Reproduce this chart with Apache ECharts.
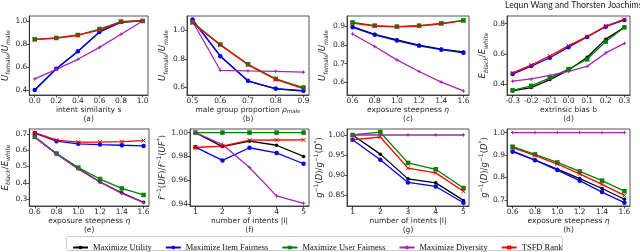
<!DOCTYPE html>
<html><head><meta charset="utf-8">
<script src="https://cdn.jsdelivr.net/npm/echarts@6/dist/echarts.min.js"></script>
<style>html,body{margin:0;padding:0;background:#fff}#c{width:640px;height:252px}</style>
</head><body><div id="c"></div>
<script>
// ---------- data ----------
const seriesNames = ['Maximize Utility','Maximize Item Fairness','Maximize User Fairness','Maximize Diversity','TSFD Rank'];

const xA = [0.0,0.2,0.4,0.6,0.8,1.0];
const xB = [0.5,0.6,0.7,0.8,0.9];
const xEta = [0.6,0.8,1.0,1.2,1.4,1.6];
const xBias = [-0.3,-0.2,-0.1,0.0,0.1,0.2,0.3];
const xIntents = [1,2,3,4,5];

// (a) intent similarity
const aUtil = [0.40,0.585,0.735,0.905,0.99,1.0];
const aItem = [0.40,0.585,0.737,0.905,0.99,1.0];
const aUser = [0.84,0.852,0.878,0.93,0.995,1.0];
const aDiv  = [0.497,0.58,0.667,0.771,0.885,1.0];
const aTsfd = [0.84,0.851,0.876,0.92,0.993,1.0];
// (b) male group proportion
const bUtil = [1.07,0.82,0.645,0.59,0.575];
const bItem = [1.073,0.818,0.647,0.593,0.578];
const bUser = [1.055,0.90,0.762,0.66,0.60];
const bDiv  = [1.06,0.72,0.716,0.713,0.707];
const bTsfd = [1.05,0.897,0.758,0.656,0.593];
// (c) exposure steepness
const cUtil = [0.90,0.858,0.828,0.80,0.778,0.763];
const cItem = [0.896,0.855,0.824,0.796,0.775,0.758];
const cUser = [0.922,0.905,0.90,0.905,0.917,0.933];
const cDiv  = [0.86,0.792,0.72,0.657,0.60,0.552];
const cTsfd = [0.918,0.902,0.898,0.903,0.915,0.932];
// (d) extrinsic bias
const dUtil = [0.356,0.378,0.431,0.493,0.578,0.698,0.776];
const dItem = [0.467,0.52,0.575,0.645,0.712,0.78,0.825];
const dUser = [0.36,0.389,0.442,0.50,0.565,0.682,0.776];
const dDiv  = [0.42,0.435,0.458,0.485,0.518,0.607,0.67];
const dTsfd = [0.475,0.527,0.587,0.655,0.715,0.785,0.83];
// (e) exposure steepness
const eUtil = [0.68,0.578,0.487,0.405,0.338,0.28];
const eItem = [0.706,0.656,0.64,0.635,0.631,0.627];
const eUser = [0.683,0.58,0.493,0.423,0.365,0.325];
const eDiv  = [0.68,0.577,0.485,0.403,0.335,0.278];
const eTsfd = [0.708,0.663,0.65,0.65,0.653,0.66];
// (f) number of intents
const fUtil = [1.0,0.9883,0.9928,0.9894,0.980];
const fItem = [0.9878,0.9767,0.9873,0.983,0.9739];
const fUser = [1.0,1.0,1.0,1.0,1.0];
const fDiv  = [1.0,0.990,0.9708,0.947,0.9408];
const fTsfd = [0.9875,0.9886,0.9936,0.9938,0.9939];
// (g) number of intents
const gUtil = [1.0,0.952,0.89,0.88,0.836];
const gItem = [0.988,0.938,0.881,0.871,0.83];
const gUser = [1.0,1.007,0.93,0.914,0.867];
const gDiv  = [1.0,1.0,1.0,1.0,1.0];
const gTsfd = [0.988,0.995,0.917,0.905,0.859];
// (h) exposure steepness
const hUtil = [0.918,0.878,0.837,0.795,0.751,0.703];
const hItem = [0.915,0.877,0.833,0.786,0.735,0.688];
const hUser = [0.937,0.903,0.867,0.827,0.786,0.739];
const hDiv  = [1.0,1.0,1.0,1.0,1.0,1.0];
const hTsfd = [0.933,0.898,0.86,0.816,0.769,0.72];

// tick values
const tickXA = [0.0,0.2,0.4,0.6,0.8,1.0];
const tickXB = [0.5,0.6,0.7,0.8,0.9];
const tickXEta = [0.6,0.8,1.0,1.2,1.4,1.6];
const tickXBias = [-0.3,-0.2,-0.1,0.0,0.1,0.2,0.3];
const tickXIntents = [1,2,3,4,5];
const tickYA = [0.4,0.6,0.8,1.0];
const tickYB = [0.6,0.8,1.0];
const tickYC = [0.6,0.7,0.8,0.9];
const tickYD = [0.4,0.6,0.8];
const tickYE = [0.3,0.4,0.5,0.6,0.7];
const tickYF = [0.94,0.96,0.98,1.00];
const tickYG = [0.85,0.90,0.95,1.00];
const tickYH = [0.7,0.8,0.9,1.0];

// ---------- styling ----------
const colors = ['#000000','#0000ff','#008000','#a626b0','#ff0000'];
const symX = 'path://M0,0L10,10M10,0L0,10';
const symPlus = 'path://M5,0L5,10M0,5L10,5';
const symbols = ['circle','circle','rect',symPlus,symX];
const symSizes = [3.5,4.5,4.5,3.5,4];
const stroked = [false,false,false,true,true];
const AX = '#262626';
const FONT = 'DejaVu Sans';

const uLab = '{i|U}{s|female}{t|/}{i|U}{s|male}';
const eLab = '{i|E}{s|black}{t|/}{i|E}{s|white}';
const fLab = '{i|f}{p|−1}{t|(}{i|UF}{t|)/}{i|f}{p|−1}{t|(}{i|UF}{p|*}{t|)}';
const gLab = '{i|g}{p|−1}{t|(}{i|D}{t|)/}{i|g}{p|−1}{t|(}{i|D}{p|*}{t|)}';

const panels = [
  {g:[27,16,121,79], x:xA, ys:[aUtil,aItem,aUser,aDiv,aTsfd], xr:[-0.05,1.05], yr:[0.357,1.043], xt:tickXA, xd:1, yt:tickYA, yd:1, yn:uLab, yg:16, xn:'intent similarity s\n(a)'},
  {g:[187,16,122,79], x:xB, ys:[bUtil,bItem,bUser,bDiv,bTsfd], xr:[0.48,0.92], yr:[0.548,1.098], xt:tickXB, xd:1, yt:tickYB, yd:1, yn:uLab, yg:16, xn:'male group proportion {m|ρ}{s|male}\n(b)'},
  {g:[347,16,122,79], x:xEta, ys:[cUtil,cItem,cUser,cDiv,cTsfd], xr:[0.55,1.65], yr:[0.53,0.957], xt:tickXEta, xd:1, yt:tickYC, yd:1, yn:uLab, yg:16, xn:'exposure steepness {m|η}\n(c)'},
  {g:[507,16,123,79], x:xBias, ys:[dUtil,dItem,dUser,dDiv,dTsfd], xr:[-0.33,0.33], yr:[0.329,0.851], xt:tickXBias, xd:1, yt:tickYD, yd:1, yn:eLab, yg:17, xn:'extrinsic bias b\n(d)'},
  {g:[27,129,122,77], x:xEta, ys:[eUtil,eItem,eUser,eDiv,eTsfd], xr:[0.55,1.65], yr:[0.257,0.731], xt:tickXEta, xd:1, yt:tickYE, yd:1, yn:eLab, yg:16, xn:'exposure steepness {m|η}\n(e)'},
  {g:[190,129,119,77], x:xIntents, ys:[fUtil,fItem,fUser,fDiv,fTsfd], xr:[0.8,5.2], yr:[0.9385,1.003], xt:tickXIntents, xd:0, yt:tickYF, yd:2, yn:fLab, yg:19, xn:'number of intents |I|\n(f)'},
  {g:[347,129,122,77], x:xIntents, ys:[gUtil,gItem,gUser,gDiv,gTsfd], xr:[0.8,5.2], yr:[0.822,1.015], xt:tickXIntents, xd:0, yt:tickYG, yd:2, yn:gLab, yg:16, xn:'number of intents |I|\n(g)'},
  {g:[507,129,123,77], x:xEta, ys:[hUtil,hItem,hUser,hDiv,hTsfd], xr:[0.55,1.65], yr:[0.673,1.016], xt:tickXEta, xd:1, yt:tickYH, yd:1, yn:gLab, yg:16, xn:'exposure steepness {m|η}\n(h)'}
];

const yRich = {
  i:{fontFamily:FONT, fontStyle:'italic', fontSize:8.5, lineHeight:12, color:AX},
  t:{fontFamily:FONT, fontSize:8.5, lineHeight:12, color:AX},
  s:{fontFamily:FONT, fontStyle:'italic', fontSize:6, lineHeight:6, verticalAlign:'bottom', color:AX},
  p:{fontFamily:FONT, fontSize:6, lineHeight:6, verticalAlign:'top', color:AX}
};
const xRich = {
  m:{fontFamily:FONT, fontStyle:'italic', fontSize:7.5, lineHeight:9, color:AX},
  s:{fontFamily:FONT, fontStyle:'italic', fontSize:5.5, lineHeight:5, verticalAlign:'bottom', color:AX}
};

const grid=[], xAxis=[], yAxis=[], series=[];
panels.forEach((p,k)=>{
  grid.push({left:p.g[0], top:p.g[1], width:p.g[2], height:p.g[3], show:true, borderColor:AX, borderWidth:0.8, containLabel:false});
  const common = {
    type:'value', gridIndex:k, splitLine:{show:false},
    axisLine:{show:true, onZero:false, lineStyle:{color:AX, width:0.8}},
    nameLocation:'middle'
  };
  xAxis.push(Object.assign({}, common, {
    min:p.xr[0], max:p.xr[1],
    axisTick:{show:true, length:2.5, customValues:p.xt, lineStyle:{color:AX, width:0.8}},
    axisLabel:{customValues:p.xt, formatter:v=>v.toFixed(p.xd), fontFamily:FONT, fontSize:7.5, color:AX, margin:2},
    name:p.xn, nameGap:11,
    nameTextStyle:{fontFamily:FONT, fontSize:7.5, lineHeight:9, color:AX, rich:xRich}
  }));
  yAxis.push(Object.assign({}, common, {
    min:p.yr[0], max:p.yr[1],
    axisTick:{show:true, length:2.5, customValues:p.yt, lineStyle:{color:AX, width:0.8}},
    axisLabel:{customValues:p.yt, formatter:v=>v.toFixed(p.yd), fontFamily:FONT, fontSize:7.5, color:AX, margin:2},
    name:p.yn, nameGap:p.yg, nameRotate:90,
    nameTextStyle:{fontFamily:FONT, fontSize:8.5, color:AX, rich:yRich}
  }));
  p.ys.forEach((vals,j)=>{
    series.push({
      type:'line', name:seriesNames[j], xAxisIndex:k, yAxisIndex:k,
      data:vals.map((v,n)=>[p.x[n], v]),
      symbol:symbols[j], symbolSize:symSizes[j], showSymbol:true,
      lineStyle:{color:colors[j], width:1.3},
      itemStyle: stroked[j] ? {color:colors[j], borderColor:colors[j], borderWidth:1} : {color:colors[j], borderWidth:0},
      animation:false, silent:true, clip:false
    });
  });
});

const chart = echarts.init(document.getElementById('c'), null, {renderer:'canvas'});
chart.setOption({
  backgroundColor:'#fff',
  animation:false,
  grid, xAxis, yAxis, series,
  legend:{
    data:seriesNames, left:67, top:238, itemWidth:15, itemHeight:4.5, itemGap:13,
    selectedMode:false,
    textStyle:{fontFamily:'Liberation Serif', fontSize:8.5, color:'#111', padding:[0,0,0,0]}
  },
  graphic:[
    {type:'rect', shape:{x:66.5, y:236.5, width:496, height:14, r:2}, style:{fill:'rgba(255,255,255,0.8)', stroke:'#cccccc', lineWidth:1}, z:-1},
    {type:'text', left:505, top:1, style:{text:'Lequn Wang and Thorsten Joachims', fontFamily:'Lato', fontSize:8.7, fill:'#222'}}
  ]
});
</script>
</body></html>
